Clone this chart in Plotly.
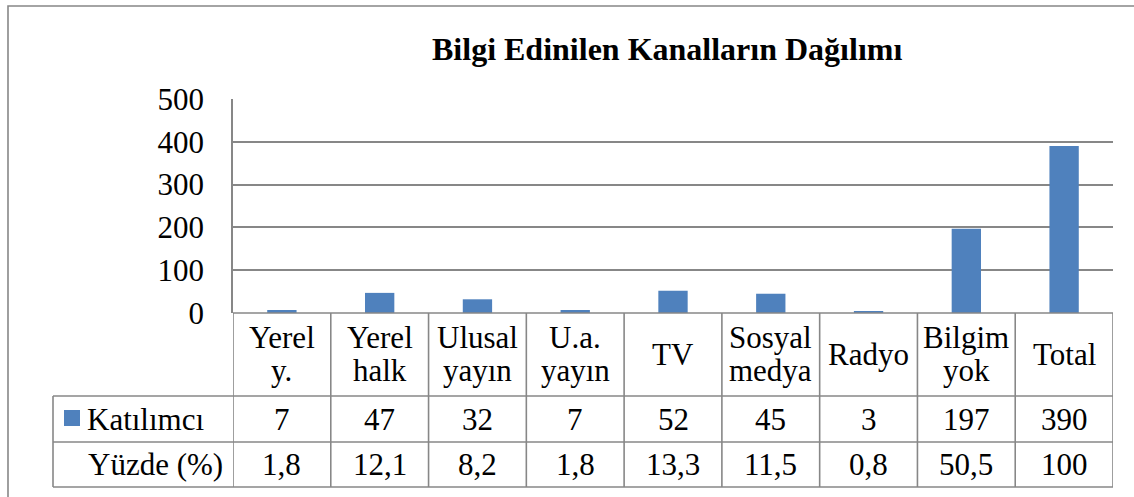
import plotly.graph_objects as go

# ---- data ----
categories = ["Yerel y.", "Yerel halk", "Ulusal yayın", "U.a. yayın", "TV",
              "Sosyal medya", "Radyo", "Bilgim yok", "Total"]
header_lines = [["Yerel", "y."], ["Yerel", "halk"], ["Ulusal", "yayın"], ["U.a.", "yayın"], ["TV"],
                ["Sosyal", "medya"], ["Radyo"], ["Bilgim", "yok"], ["Total"]]
katilimci = [7, 47, 32, 7, 52, 45, 3, 197, 390]
yuzde = [1.8, 12.1, 8.2, 1.8, 13.3, 11.5, 0.8, 50.5, 100]
series_name = "Katılımcı"
row2_name = "Yüzde (%)"
title_text = "Bilgi Edinilen Kanalların Dağılımı"
y_ticks = [0, 100, 200, 300, 400, 500]

# ---- layout geometry (pixels) ----
W_FIG, H_FIG = 1134, 497
L, R, T, B = 233, 1113, 99, 487
PW, PH = R - L, B - T
def px(x):
    return (x - L) / PW
def py(y):
    return (B - y) / PH

FONT = "Liberation Serif"
GRID = "#878787"
BLUE = "#4F81BD"
FS = 31

fig = go.Figure()
fig.add_trace(go.Bar(x=categories, y=katilimci, marker=dict(color=BLUE, line=dict(width=0)),
                     name=series_name, showlegend=False))

shapes = []
ann = []
n = len(categories)
row_hdr = (313, 396)
row1 = (396, 442)
row2 = (442, 487)
line = dict(color=GRID, width=1.6)

# outer chart border
shapes.append(dict(type="rect", xref="paper", yref="paper", x0=px(8), x1=px(1140), y0=py(510), y1=py(6),
                   line=dict(color=GRID, width=1.6), fillcolor="rgba(0,0,0,0)", layer="below"))
# horizontal table lines
shapes.append(dict(type="line", xref="paper", yref="paper", x0=0, x1=1, y0=py(313), y1=py(313), line=line))
for yy in (396, 442, 487):
    shapes.append(dict(type="line", xref="paper", yref="paper", x0=px(53), x1=1, y0=py(yy), y1=py(yy), line=line))
# vertical table lines (category boundaries on the x scale)
for i in range(n + 1):
    shapes.append(dict(type="line", xref="x", yref="paper", x0=i - 0.5, x1=i - 0.5,
                       y0=py(487), y1=py(313), line=line))
shapes.append(dict(type="line", xref="paper", yref="paper", x0=px(53), x1=px(53),
                   y0=py(487), y1=py(396), line=line))
# legend key
shapes.append(dict(type="rect", xref="paper", yref="paper", x0=px(64), x1=px(80), y0=py(426), y1=py(410),
                   fillcolor=BLUE, line=dict(width=0)))

font = dict(family=FONT, size=FS, color="black")
hdr_c = (row_hdr[0] + row_hdr[1]) / 2
for cat, lines_ in zip(categories, header_lines):
    if len(lines_) == 1:
        ys = [hdr_c]
    else:
        ys = [hdr_c - 17, hdr_c + 16]
    for txt, yy in zip(lines_, ys):
        ann.append(dict(x=cat, xref="x", y=py(yy), yref="paper", text=txt, showarrow=False,
                        xanchor="center", yanchor="middle", font=font))

def fmt(v):
    s = ("%g" % v)
    return s.replace(".", ",")

for cat, k, p in zip(categories, katilimci, yuzde):
    ann.append(dict(x=cat, xref="x", y=py(sum(row1) / 2), yref="paper", text=str(k), showarrow=False,
                    xanchor="center", yanchor="middle", font=font))
    ann.append(dict(x=cat, xref="x", y=py(sum(row2) / 2), yref="paper", text=fmt(p), showarrow=False,
                    xanchor="center", yanchor="middle", font=font))

ann.append(dict(x=px(85), xref="paper", y=py(sum(row1) / 2), yref="paper", text=series_name, showarrow=False,
                xanchor="left", yanchor="middle", font=font))
ann.append(dict(x=px(86), xref="paper", y=py(sum(row2) / 2), yref="paper", text=row2_name, showarrow=False,
                xanchor="left", yanchor="middle", font=font))
ann.append(dict(x=px(667), xref="paper", y=py(49), yref="paper", text="<b>" + title_text + "</b>",
                showarrow=False, xanchor="center", yanchor="middle",
                font=dict(family=FONT, size=32, color="black")))

fig.update_layout(
    width=W_FIG, height=H_FIG,
    margin=dict(l=L, r=W_FIG - R, t=T, b=H_FIG - B, autoexpand=False),
    paper_bgcolor="white", plot_bgcolor="white",
    bargap=0.70,
    shapes=shapes, annotations=ann,
    showlegend=False,
    xaxis=dict(showticklabels=False, showgrid=False, zeroline=False, showline=False, ticks="",
               range=[-0.5, n - 0.5], automargin=False),
    yaxis=dict(domain=[py(313), 1], range=[0, 500], tickvals=y_ticks, showgrid=True, gridcolor=GRID,
               gridwidth=1.6, zeroline=False, showline=True, linecolor=GRID, linewidth=1.6,
               ticks="outside", ticklen=21, tickcolor="rgba(0,0,0,0)",
               tickfont=dict(family=FONT, size=FS, color="black"), automargin=False),
)

fig.write_html("out.html", config={"displayModeBar": False},
               post_script="document.body.style.margin='0';document.body.style.overflow='hidden';")
